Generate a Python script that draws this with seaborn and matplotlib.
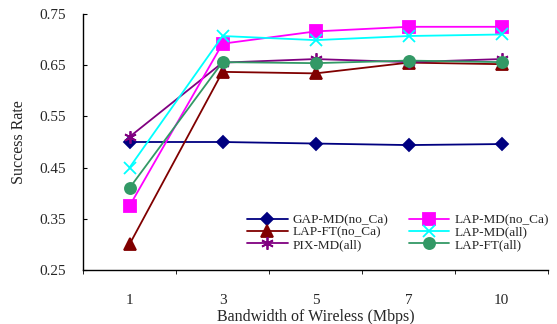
import matplotlib
matplotlib.use("Agg")
import matplotlib.pyplot as plt
import seaborn as sns
import pandas as pd
import numpy as np

categories = ["1", "3", "5", "7", "10"]
gap_md_noca = [0.500, 0.500, 0.497, 0.494, 0.496]
lap_md_noca = [0.375, 0.692, 0.716, 0.725, 0.725]
lap_ft_noca = [0.300, 0.637, 0.634, 0.655, 0.652]
lap_md_all = [0.450, 0.707, 0.699, 0.707, 0.710]
pix_md_all = [0.510, 0.655, 0.662, 0.656, 0.662]
lap_ft_all = [0.410, 0.656, 0.654, 0.659, 0.656]
yticks = [0.25, 0.35, 0.45, 0.55, 0.65, 0.75]

series = [
    ("GAP-MD(no_Ca)", gap_md_noca, "#000080", "D", 6),
    ("LAP-FT(no_Ca)", lap_ft_noca, "#800000", "^", 8),
    ("PIX-MD(all)", pix_md_all, "#800080", (6, 2, 0), 9),
    ("LAP-MD(no_Ca)", lap_md_noca, "#FF00FF", "s", 8),
    ("LAP-MD(all)", lap_md_all, "#00FFFF", "x", 8),
    ("LAP-FT(all)", lap_ft_all, "#339966", "o", 8),
]

sns.set_style("ticks")
plt.rcParams["font.family"] = ["Liberation Serif", "DejaVu Serif"]

fig = plt.figure(figsize=(5.57, 3.24), dpi=100)
ax = fig.add_axes([83 / 557, 1 - 270 / 324, 465 / 557, 256 / 324])

xpos = np.arange(len(categories))
for name, vals, color, marker, ms in series:
    df = pd.DataFrame({"x": xpos, "y": vals})
    sns.lineplot(data=df, x="x", y="y", ax=ax, color=color, marker=marker,
                 markersize=ms, markeredgecolor=color, markeredgewidth=1.3,
                 linewidth=1.3, label=name)

ax.set_xlim(-0.5, len(categories) - 0.5)
ax.set_ylim(0.25, 0.75)
ax.set_yticks(yticks)
ax.set_yticklabels([f"{t:.2f}" for t in yticks], fontsize=11)
ax.set_xticks(xpos)
ax.set_xticklabels(categories, fontsize=11)
ax.tick_params(axis="x", which="major", length=0, pad=17)
ax.set_xticks(np.arange(-0.5, len(categories), 1), minor=True)
ax.tick_params(axis="x", which="minor", length=3, direction="out", color="black")
ax.tick_params(axis="y", length=3, direction="in", color="black", pad=12)
for s in ["top", "right"]:
    ax.spines[s].set_visible(False)
for s in ["left", "bottom"]:
    ax.spines[s].set_color("black")
    ax.spines[s].set_linewidth(1.0)

ax.set_xlabel("Bandwidth of Wireless (Mbps)", fontsize=11.5, labelpad=2)
ax.set_ylabel("Success Rate", fontsize=11.5, labelpad=9)

leg = ax.legend(ncol=2, loc="lower left", bbox_to_anchor=(0.352, 0.075),
                frameon=False, fontsize=9.5, handlelength=3.1,
                columnspacing=1.5, handletextpad=0.4, labelspacing=0.0,
                borderaxespad=0, borderpad=0)

fig.savefig("out.png", dpi=100)
